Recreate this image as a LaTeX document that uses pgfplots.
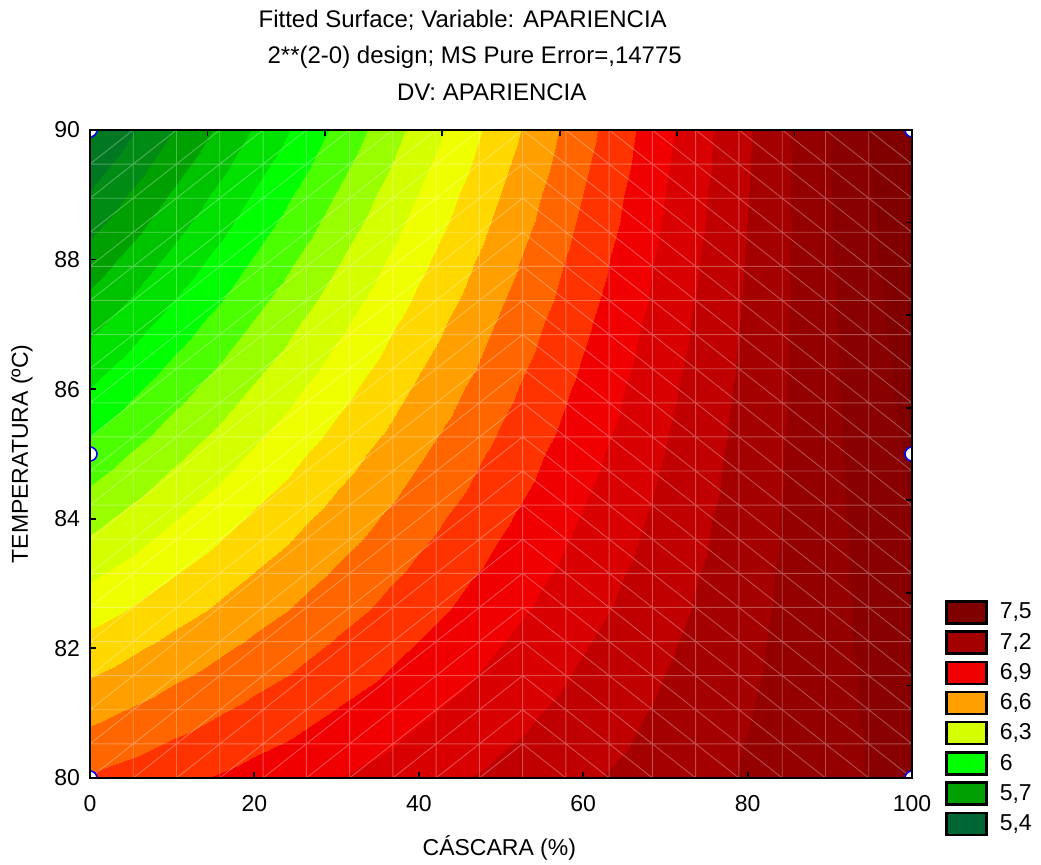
\documentclass[border=0pt]{standalone}
\usepackage{pgfplots}
\pgfplotsset{compat=1.18}
\usepackage{fontspec}
\setmainfont{Liberation Sans}
\definecolor{c75}{RGB}{128,0,0}
\definecolor{c72}{RGB}{165,0,0}
\definecolor{c69}{RGB}{240,0,0}
\definecolor{c66}{RGB}{255,160,0}
\definecolor{c63}{RGB}{212,255,0}
\definecolor{c60}{RGB}{0,255,0}
\definecolor{c57}{RGB}{0,160,0}
\definecolor{c54}{RGB}{0,102,51}
\pgfplotsset{
  colormap={apa}{rgb255=(0,102,51) rgb255=(0,120,34) rgb255=(0,140,20) rgb255=(0,160,0) rgb255=(0,195,0) rgb255=(0,225,0) rgb255=(0,255,0) rgb255=(76,255,0) rgb255=(153,255,0) rgb255=(212,255,0) rgb255=(240,255,0) rgb255=(255,216,0) rgb255=(255,160,0) rgb255=(255,102,0) rgb255=(255,51,0) rgb255=(240,0,0) rgb255=(216,0,0) rgb255=(192,0,0) rgb255=(165,0,0) rgb255=(148,0,0) rgb255=(136,0,0) rgb255=(128,0,0) rgb255=(128,0,0)},
  legbox/.style={legend image code/.code={\path[draw=none,fill=none] (0pt,-7.55pt) rectangle (20pt,7.55pt); \draw[black, line width=1.2pt, fill=#1] (0pt,-5.5pt) rectangle (20pt,5.5pt);}},
}
\begin{document}
\begin{tikzpicture}
\useasboundingbox (-45pt,-43.5pt) rectangle (475.5pt,389pt);
% filled contour surface
\begin{axis}[hide axis, view={0}{90}, scale only axis, width=411pt, height=324pt,
  xmin=0, xmax=100, ymin=80, ymax=90,
  colormap name=apa, colormap access=piecewise constant,
  point meta min=5.35, point meta max=7.65]
\addplot3[surf, shader=interp] table {
x y z
0 80 6.760
10 80 6.823
20 80 6.885
30 80 6.948
40 80 7.011
50 80 7.074
60 80 7.136
70 80 7.199
80 80 7.262
90 80 7.324
100 80 7.387

0 81 6.623
10 81 6.701
20 81 6.779
30 81 6.857
40 81 6.935
50 81 7.012
60 81 7.090
70 81 7.168
80 81 7.246
90 81 7.324
100 81 7.401

0 82 6.488
10 82 6.581
20 82 6.673
30 82 6.766
40 82 6.859
50 82 6.952
60 82 7.045
70 82 7.138
80 82 7.231
90 82 7.324
100 82 7.417

0 83 6.353
10 83 6.461
20 83 6.569
30 83 6.677
40 83 6.785
50 83 6.893
60 83 7.001
70 83 7.109
80 83 7.217
90 83 7.325
100 83 7.433

0 84 6.218
10 84 6.342
20 84 6.465
30 84 6.588
40 84 6.711
50 84 6.834
60 84 6.957
70 84 7.080
80 84 7.203
90 84 7.326
100 84 7.449

0 85 6.085
10 85 6.223
20 85 6.361
30 85 6.500
40 85 6.638
50 85 6.776
60 85 6.914
70 85 7.052
80 85 7.191
90 85 7.329
100 85 7.467

0 86 5.952
10 86 6.106
20 86 6.259
30 86 6.412
40 86 6.566
50 86 6.719
60 86 6.872
70 86 7.026
80 86 7.179
90 86 7.332
100 86 7.485

0 87 5.821
10 87 5.989
20 87 6.157
30 87 6.326
40 87 6.494
50 87 6.663
60 87 6.831
70 87 6.999
80 87 7.168
90 87 7.336
100 87 7.505

0 88 5.690
10 88 5.873
20 88 6.057
30 88 6.240
40 88 6.424
50 88 6.607
60 88 6.791
70 88 6.974
80 88 7.158
90 88 7.341
100 88 7.525

0 89 5.559
10 89 5.758
20 89 5.957
30 89 6.155
40 89 6.354
50 89 6.552
60 89 6.751
70 89 6.950
80 89 7.148
90 89 7.347
100 89 7.545

0 90 5.430
10 90 5.644
20 90 5.857
30 90 6.071
40 90 6.285
50 90 6.499
60 90 6.712
70 90 6.926
80 90 7.140
90 90 7.353
100 90 7.567
};
\end{axis}
% frame, labels, mesh, design points, legend
\begin{axis}[scale only axis, width=411pt, height=324pt,
  xmin=0, xmax=100, ymin=80, ymax=90,
  axis on top,
  xtick={0,20,40,60,80,100}, ytick={80,82,84,86,88,90},
  xtick pos=left, ytick pos=left, tick align=inside,
  major tick length=3pt, tick style={black, line width=0.9pt},
  axis line style={black, line width=1pt},
  /pgf/number format/assume math mode=true,
  ticklabel style={font=\fontsize{11.5}{13}\selectfont},
  xticklabel style={yshift=-5pt},
  yticklabel style={xshift=-1.5pt},
  label style={font=\fontsize{11.5}{13}\selectfont},
  xlabel={CÁSCARA (\%)}, ylabel={TEMPERATURA (ºC)},
  xlabel style={at={(axis description cs:0.498,-0.108)}, anchor=center},
  ylabel style={at={(axis description cs:-0.0827,0.5)}, anchor=center},
  title={Fitted Surface; Variable: APARIENCIA\hspace*{12pt}\\2**(2-0) design; MS Pure Error=,14775\\\hspace*{17pt}DV: APARIENCIA},
  title style={at={(axis description cs:0.468,1)}, anchor=south, align=center, font=\fontsize{12}{18.2}\selectfont, inner sep=0pt, yshift=8.5pt},
  clip marker paths=true,
  legend cell align=left,
  legend style={at={(axis description cs:1.0401,0.2793)}, anchor=north west, draw=none, fill=none, inner sep=0pt, row sep=0pt, column sep=6pt, font=\fontsize{11.5}{13}\selectfont, nodes={inner sep=0pt}},
]
\addplot[white, opacity=0.3, line width=0.45pt, unbounded coords=jump, forget plot] table {
x y
5.263 80
5.263 90
nan nan
10.526 80
10.526 90
nan nan
15.789 80
15.789 90
nan nan
21.053 80
21.053 90
nan nan
26.316 80
26.316 90
nan nan
31.579 80
31.579 90
nan nan
36.842 80
36.842 90
nan nan
42.105 80
42.105 90
nan nan
47.368 80
47.368 90
nan nan
52.632 80
52.632 90
nan nan
57.895 80
57.895 90
nan nan
63.158 80
63.158 90
nan nan
68.421 80
68.421 90
nan nan
73.684 80
73.684 90
nan nan
78.947 80
78.947 90
nan nan
84.211 80
84.211 90
nan nan
89.474 80
89.474 90
nan nan
94.737 80
94.737 90
nan nan
0 80.526
100 80.526
nan nan
0 81.053
100 81.053
nan nan
0 81.579
100 81.579
nan nan
0 82.105
100 82.105
nan nan
0 82.632
100 82.632
nan nan
0 83.158
100 83.158
nan nan
0 83.684
100 83.684
nan nan
0 84.211
100 84.211
nan nan
0 84.737
100 84.737
nan nan
0 85.263
100 85.263
nan nan
0 85.789
100 85.789
nan nan
0 86.316
100 86.316
nan nan
0 86.842
100 86.842
nan nan
0 87.368
100 87.368
nan nan
0 87.895
100 87.895
nan nan
0 88.421
100 88.421
nan nan
0 88.947
100 88.947
nan nan
0 89.474
100 89.474
nan nan
0 74.737
52.632 80
nan nan
0 75.263
52.632 80.526
nan nan
0 75.789
52.632 81.053
nan nan
0 76.316
52.632 81.579
nan nan
0 76.842
52.632 82.105
nan nan
0 77.368
52.632 82.632
nan nan
0 77.895
52.632 83.158
nan nan
0 78.421
52.632 83.684
nan nan
0 78.947
52.632 84.211
nan nan
0 79.474
52.632 84.737
nan nan
0 80
52.632 85.263
nan nan
0 80.526
52.632 85.789
nan nan
0 81.053
52.632 86.316
nan nan
0 81.579
52.632 86.842
nan nan
0 82.105
52.632 87.368
nan nan
0 82.632
52.632 87.895
nan nan
0 83.158
52.632 88.421
nan nan
0 83.684
52.632 88.947
nan nan
0 84.211
52.632 89.474
nan nan
0 84.737
52.632 90
nan nan
0 85.263
52.632 90.526
nan nan
0 85.789
52.632 91.053
nan nan
0 86.316
52.632 91.579
nan nan
0 86.842
52.632 92.105
nan nan
0 87.368
52.632 92.632
nan nan
0 87.895
52.632 93.158
nan nan
0 88.421
52.632 93.684
nan nan
0 88.947
52.632 94.211
nan nan
0 89.474
52.632 94.737
nan nan
52.632 80.526
100 75.789
nan nan
52.632 81.053
100 76.316
nan nan
52.632 81.579
100 76.842
nan nan
52.632 82.105
100 77.368
nan nan
52.632 82.632
100 77.895
nan nan
52.632 83.158
100 78.421
nan nan
52.632 83.684
100 78.947
nan nan
52.632 84.211
100 79.474
nan nan
52.632 84.737
100 80
nan nan
52.632 85.263
100 80.526
nan nan
52.632 85.789
100 81.053
nan nan
52.632 86.316
100 81.579
nan nan
52.632 86.842
100 82.105
nan nan
52.632 87.368
100 82.632
nan nan
52.632 87.895
100 83.158
nan nan
52.632 88.421
100 83.684
nan nan
52.632 88.947
100 84.211
nan nan
52.632 89.474
100 84.737
nan nan
52.632 90
100 85.263
nan nan
52.632 90.526
100 85.789
nan nan
52.632 91.053
100 86.316
nan nan
52.632 91.579
100 86.842
nan nan
52.632 92.105
100 87.368
nan nan
52.632 92.632
100 87.895
nan nan
52.632 93.158
100 88.421
nan nan
52.632 93.684
100 88.947
nan nan
52.632 94.211
100 89.474
nan nan
52.632 94.737
100 90
};
\addplot[only marks, mark=*, mark size=3.5pt, mark options={draw=blue, fill=white, line width=0.8pt}, forget plot] coordinates {(0,80) (0,85) (0,90) (100,80) (100,85) (100,90)};
\addlegendimage{legbox=c75}\addlegendentry{7{,}5}
\addlegendimage{legbox=c72}\addlegendentry{7{,}2}
\addlegendimage{legbox=c69}\addlegendentry{6{,}9}
\addlegendimage{legbox=c66}\addlegendentry{6{,}6}
\addlegendimage{legbox=c63}\addlegendentry{6{,}3}
\addlegendimage{legbox=c60}\addlegendentry{6}
\addlegendimage{legbox=c57}\addlegendentry{5{,}7}
\addlegendimage{legbox=c54}\addlegendentry{5{,}4}
\end{axis}
% top and right ticks
\begin{axis}[scale only axis, width=411pt, height=324pt,
  xmin=0, xmax=100, ymin=80, ymax=90,
  xtick={14.2857,28.5714,42.8571,57.1429,71.4286,85.7143},
  ytick={81.4286,82.8571,84.2857,85.7143,87.1429,88.5714},
  xticklabels={}, yticklabels={},
  xtick pos=right, ytick pos=right, tick align=inside,
  major tick length=3pt, tick style={black, line width=0.9pt},
  axis line style={black, line width=1pt}]
\addplot[draw=none, forget plot] coordinates {(50,85)};
\end{axis}
\end{tikzpicture}
\end{document}
